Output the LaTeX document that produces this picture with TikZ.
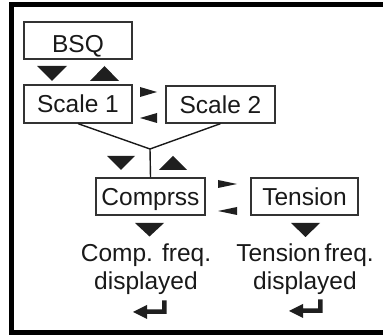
\documentclass[tikz,border=0pt]{standalone}
\usepackage{fontspec}
\setmainfont{Liberation Sans}
\begin{document}
\begin{tikzpicture}[x=1pt,y=-1pt,
  every node/.style={font=\fontsize{24.5}{28}\selectfont, text=black!90},
  box/.style={draw=black!80, line width=1.3pt, rectangle, inner sep=0pt,
    text height=17.5pt, text depth=0pt},
  tri/.style={fill=black!88, draw=none},
  link/.style={draw=black!90, line width=1.4pt},
  lbl/.style={align=center, inner sep=0pt, anchor=base}]
\useasboundingbox (0,0) rectangle (383,336);
\clip (0,0) rectangle (383,336);
% outer frame
\draw[line width=5pt, black] (11.5,4.5) rectangle (400,333);
% boxes
\node[box, minimum width=108pt, minimum height=37pt, text height=24pt] (bsq) at (78,40.5) {BSQ};
\node[box, minimum width=108pt, minimum height=38pt] (s1) at (78,104) {Scale 1};
\node[box, minimum width=109pt, minimum height=37pt] (s2) at (220.5,104.5) {Scale 2};
\node[box, minimum width=109pt, minimum height=37pt] (cp) at (150.5,196.5) {Comprss};
\node[box, minimum width=107pt, minimum height=37pt] (tn) at (304.5,196.5) {Tension};
% junction lines
\coordinate (j) at (150,149);
\draw[link] (s1.south) -- (j);
\draw[link] (s2.south) -- (j);
\draw[link] (j) -- (cp.north);
% triangles BSQ <-> Scale 1
\fill[tri] (37,66) -- (67,66) -- (52,81) -- cycle;
\fill[tri] (90,81) -- (119,81) -- (104.5,66) -- cycle;
% Scale1 <-> Scale2
\fill[tri] (140,87) -- (157,92) -- (140,97) -- cycle;
\fill[tri] (157,113) -- (140,118) -- (157,123) -- cycle;
% junction triangles
\fill[tri] (107,156) -- (135,156) -- (121,170) -- cycle;
\fill[tri] (159,170) -- (187,170) -- (173,156) -- cycle;
% Compress <-> Tension
\fill[tri] (218,180) -- (237,184) -- (218,188) -- cycle;
\fill[tri] (237,207) -- (218,211) -- (237,215) -- cycle;
% down triangles below boxes
\fill[tri] (135,223) -- (164,223) -- (149.5,236.5) -- cycle;
\fill[tri] (291,223) -- (320,223) -- (305.5,237) -- cycle;
% labels (base anchor = last line baseline)
\node[lbl] (cf) at (146,290) {Comp. freq.\\displayed};
\node[lbl] (tf) at (305,290) {{\spaceskip=4pt Tension freq.}\\displayed};
% return symbols
\fill[tri] (133,312) -- (147,305) -- (147,309.5) -- (162,309.5) -- (162,300.5)
  -- (166.5,300.5) -- (166.5,314) -- (147,314) -- (147,319) -- cycle;
\fill[tri] (289,311) -- (303,304) -- (303,308.5) -- (318,308.5) -- (318,299.5)
  -- (322.5,299.5) -- (322.5,313) -- (303,313) -- (303,318) -- cycle;
\end{tikzpicture}
\end{document}
